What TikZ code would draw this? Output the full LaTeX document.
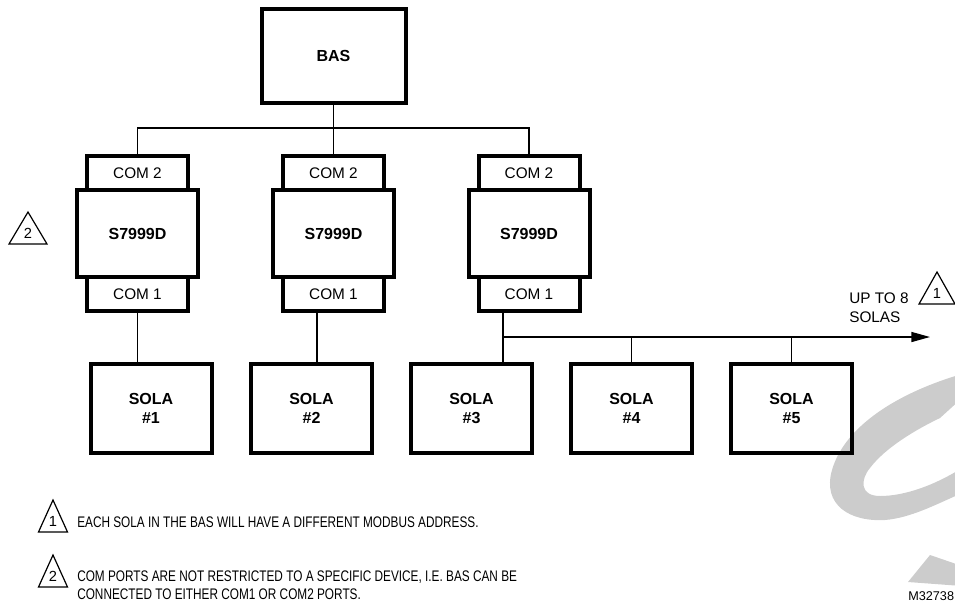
\documentclass[tikz,border=0pt]{standalone}
\usepackage{fontspec}
\setmainfont{Liberation Sans}
\newfontfamily\notefont[FakeStretch=0.77]{Liberation Sans}
\usetikzlibrary{positioning,arrows.meta}

\definecolor{wmgray}{gray}{0.8}

\tikzstyle{box} = [draw, line width=3pt, outer sep=0pt, align=center, font=\fontsize{12}{14}\selectfont\bfseries]
\tikzstyle{ctrl} = [box, minimum width=90.75pt, minimum height=65.25pt]
\tikzstyle{port} = [draw, line width=3pt, outer sep=0pt, minimum width=75.75pt, minimum height=25.5pt, font=\fontsize{11.5}{13}\selectfont]
\tikzstyle{sola} = [box, minimum width=90.75pt, minimum height=66.75pt]
\tikzstyle{wire} = [line width=1.1pt]
\tikzstyle{tri} = [line width=0.9pt, line join=miter]
\tikzstyle{num} = [inner sep=0pt, anchor=base, font=\fontsize{11}{13}\selectfont]
\tikzstyle{note} = [inner sep=0pt, align=left, font=\notefont\fontsize{11.5}{13.5}\selectfont]

% warning triangle: name, apex x, apex y, half width, number
\newcommand{\warnflag}[5]{%
  \draw[tri] (#2-#4,#3+32) -- (#2,#3) -- (#2+#4,#3+32) -- cycle;
  \node[num] (#1) at (#2,#3+26.5) {#5};}

\begin{document}
\begin{tikzpicture}[x=0.75pt, y=-0.75pt]
\useasboundingbox (0,0) rectangle (955,607);
\clip (0,0) rectangle (955,607);

% watermark
\fill[wmgray] (962,374) .. controls (900,392) and (845,425) .. (832,470)
  .. controls (822,505) and (850,522) .. (885,520)
  .. controls (910,518) and (935,505) .. (962,493)
  -- (962,468) .. controls (935,485) and (905,496) .. (880,496)
  .. controls (860,496) and (860,480) .. (870,468)
  .. controls (885,448) and (915,430) .. (940,418)
  -- (962,398) -- cycle;
\fill[wmgray] (908,582) -- (930,555) -- (962,566) -- (962,586) -- cycle;

% devices
\node[box, minimum width=108pt, minimum height=70.5pt] (bas) at (333.5,55.5) {BAS};

\node[ctrl] (s1) at (137.5,233.5) {S7999D};
\node[ctrl] (s2) at (333.5,233.5) {S7999D};
\node[ctrl] (s3) at (529,233.5) {S7999D};
\foreach \s in {1,2,3}{
  \node[port, above=0pt of s\s] (top\s) {COM 2};
  \node[port, below=0pt of s\s] (bot\s) {COM 1};
}

\foreach \n/\x in {1/151,2/311.5,3/471.5,4/631.5,5/791.5}
  \node[sola] (sola\n) at (\x,408.5) {SOLA\\\#\n};

% wiring
\coordinate (bus) at (333.5,128);
\coordinate (end) at (930,337);
\draw[wire] (bas) -- (top2);
\draw[wire] (top1) |- (top3 |- bus) -- (top3);
\draw[wire] (bot1) -- (bot1 |- sola1.north);
\draw[wire] ([xshift=-12.4pt]bot2.south) coordinate (tap2) -- (tap2 |- sola2.north);
\draw[wire] ([xshift=-19.5pt]bot3.south) coordinate (tap3) -- (tap3 |- sola3.north);
\draw[wire, -{Triangle[length=14pt, width=7.5pt]}] (tap3 |- end) -- (end);
\draw[wire] (sola4) -- (sola4 |- end);
\draw[wire] (sola5) -- (sola5 |- end);

% labels
\node[inner sep=0pt, anchor=north west, align=left, font=\fontsize{11.5}{14.25}\selectfont] (upto) at (849,293) {UP TO 8\\SOLAS};
\warnflag{f1}{937}{272}{18}{1}
\warnflag{f2}{28}{212}{19}{2}

% notes
\warnflag{n1}{53}{500}{14.5}{1}
\node[note, anchor=base west] (note1) at (77,527) {EACH SOLA IN THE BAS WILL HAVE A DIFFERENT MODBUS ADDRESS.};
\warnflag{n2}{53}{555}{14.5}{2}
\node[note, anchor=north west] (note2) at (77,571) {COM PORTS ARE NOT RESTRICTED TO A SPECIFIC DEVICE, I.E. BAS CAN BE\\CONNECTED TO EITHER COM1 OR COM2 PORTS.};
\node[inner sep=0pt, anchor=base west, font=\fontsize{9.5}{11}\selectfont] (code) at (908,600) {M32738};
\end{tikzpicture}
\end{document}
